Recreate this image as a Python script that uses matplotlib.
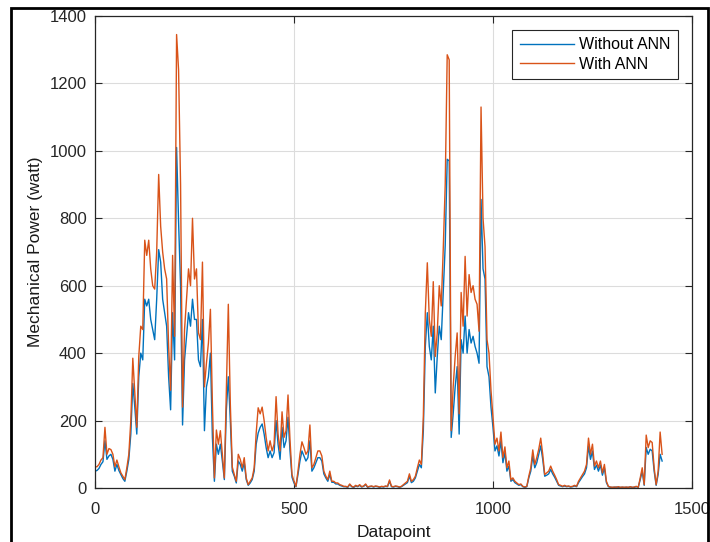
import numpy as np
import matplotlib
matplotlib.use("Agg")
import matplotlib.pyplot as plt
from matplotlib.patches import Rectangle

plt.rcParams['font.family'] = ['Liberation Sans', 'DejaVu Sans']

# datapoint index (every 5th sample)
datapoint = np.arange(0, 1430, 5)

# mechanical power with ANN (watt)
with_ann = [
    63, 63, 70, 83, 90, 180, 100, 117, 114, 100,
    63, 83, 63, 45, 35, 25, 60, 100, 200, 385,
    280, 180, 390, 480, 470, 735, 690, 735, 650, 600,
    590, 700, 930, 776, 700, 650, 620, 420, 290, 690,
    450, 1345, 1240, 900, 240, 470, 560, 650, 600, 800,
    620, 650, 460, 440, 670, 300, 370, 430, 530, 250,
    30, 172, 130, 170, 100, 30, 290, 545, 250, 62,
    40, 20, 100, 85, 60, 90, 30, 10, 20, 30,
    60, 163, 238, 220, 240, 200, 150, 110, 140, 110,
    130, 271, 160, 110, 226, 150, 170, 276, 142, 40,
    20, 5, 50, 100, 137, 120, 100, 110, 187, 60,
    70, 90, 110, 110, 95, 50, 35, 25, 50, 20,
    20, 15, 15, 10, 8, 5, 5, 3, 12, 5,
    3, 8, 5, 10, 4, 6, 12, 3, 5, 6,
    4, 6, 5, 3, 5, 4, 6, 5, 24, 5,
    4, 6, 5, 3, 5, 10, 15, 20, 42, 20,
    25, 35, 60, 83, 70, 211, 520, 668, 500, 450,
    612, 390, 460, 600, 540, 707, 900, 1285, 1270, 170,
    300, 390, 460, 220, 580, 480, 687, 510, 633, 580,
    600, 560, 545, 465, 1130, 800, 716, 440, 400, 290,
    210, 130, 148, 110, 166, 90, 122, 60, 80, 24,
    30, 20, 15, 10, 12, 5, 3, 5, 35, 60,
    113, 70, 90, 115, 148, 100, 40, 45, 50, 65,
    50, 38, 25, 10, 8, 5, 8, 5, 6, 4,
    5, 8, 5, 20, 30, 40, 50, 70, 148, 100,
    130, 65, 80, 60, 80, 45, 70, 20, 5, 3,
    2, 3, 2, 4, 2, 3, 2, 3, 2, 4,
    2, 3, 5, 2, 30, 60, 10, 157, 120, 140,
    135, 60, 10, 50, 166, 100,
]

# mechanical power without ANN (watt)
without_ann = [
    50, 52, 58, 70, 78, 140, 85, 95, 100, 85,
    50, 70, 52, 40, 28, 20, 50, 85, 160, 310,
    240, 160, 330, 400, 380, 560, 540, 560, 500, 470,
    440, 560, 707, 670, 560, 520, 480, 330, 232, 520,
    380, 1010, 790, 600, 187, 380, 450, 520, 480, 560,
    500, 500, 380, 360, 500, 170, 300, 330, 400, 150,
    20, 130, 100, 130, 80, 25, 230, 330, 200, 50,
    35, 15, 80, 70, 50, 75, 25, 8, 15, 25,
    50, 130, 163, 180, 190, 160, 120, 90, 110, 90,
    105, 200, 130, 85, 180, 120, 140, 210, 110, 32,
    15, 4, 40, 80, 110, 95, 80, 90, 140, 50,
    60, 75, 90, 90, 80, 42, 30, 20, 40, 17,
    17, 12, 12, 8, 6, 4, 4, 2, 10, 4,
    2, 6, 4, 8, 3, 5, 10, 2, 4, 5,
    3, 5, 4, 2, 4, 3, 5, 4, 20, 4,
    3, 5, 4, 2, 4, 8, 12, 16, 35, 16,
    20, 30, 50, 70, 60, 170, 420, 520, 420, 380,
    480, 282, 390, 480, 440, 580, 720, 975, 970, 150,
    220, 300, 360, 160, 440, 400, 510, 400, 470, 430,
    450, 420, 400, 370, 856, 650, 620, 360, 330, 240,
    180, 110, 125, 95, 140, 75, 105, 50, 65, 20,
    25, 16, 12, 8, 10, 4, 2, 4, 30, 50,
    95, 60, 75, 100, 125, 85, 35, 38, 42, 55,
    42, 32, 20, 8, 6, 4, 6, 4, 5, 3,
    4, 6, 4, 16, 25, 34, 42, 60, 125, 85,
    110, 55, 68, 50, 68, 38, 60, 16, 4, 2,
    2, 2, 3, 2, 2, 2, 2, 2, 2, 3,
    2, 2, 4, 2, 25, 50, 8, 120, 100, 115,
    110, 50, 8, 40, 100, 80,
]

fig = plt.figure(figsize=(7.1, 5.42), dpi=100)
ax = fig.add_axes([0.1338, 0.0996, 0.8408, 0.8709])

ax.plot(datapoint, without_ann, color='#0072BD', lw=1.0, label='Without ANN')
ax.plot(datapoint, with_ann, color='#D95319', lw=1.0, label='With ANN')

ax.set_xlim(0, 1500)
ax.set_ylim(0, 1400)
ax.set_xticks([0, 500, 1000, 1500])
ax.set_yticks(np.arange(0, 1401, 200))
ax.grid(True, color='#dcdcdc', lw=0.8)
ax.set_axisbelow(True)
ax.tick_params(direction='in', top=True, right=True, length=5, labelsize=12,
               colors='#262626')
ax.tick_params(axis='x', pad=10)
ax.tick_params(axis='y', pad=6)
for sp in ax.spines.values():
    sp.set_color('#262626')
    sp.set_linewidth(0.9)

ax.set_xlabel('Datapoint', fontsize=12.5, color='#1a1a1a', labelpad=6)
ax.set_ylabel('Mechanical Power (watt)', fontsize=12.5, color='#1a1a1a', labelpad=5)

leg = ax.legend(loc='upper right', bbox_to_anchor=(0.9766, 0.9703), fontsize=11.5,
                handlelength=3.4, handletextpad=0.35, borderpad=0.45,
                labelspacing=0.3, fancybox=False, framealpha=1, borderaxespad=0)
leg.get_frame().set_edgecolor('#262626')
leg.get_frame().set_linewidth(0.8)

# black frame round the whole figure (as in the screenshot)
fig.patches.append(Rectangle((11 / 710, -0.1), 697 / 710, 1.1 - 8 / 542,
                             transform=fig.transFigure, fill=False,
                             edgecolor='black', lw=2, clip_on=False))

fig.savefig('out.png', dpi=100)
